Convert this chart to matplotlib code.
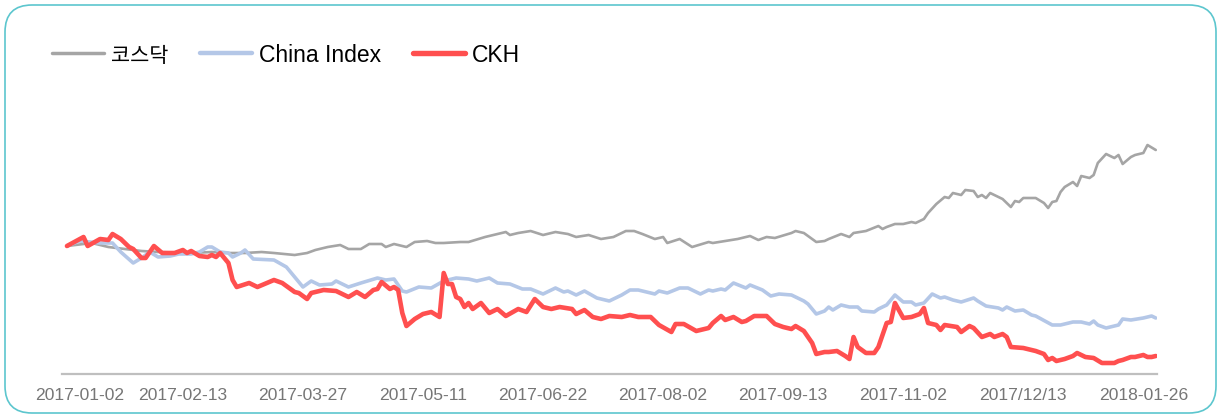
import matplotlib.pyplot as plt
from matplotlib.patches import FancyBboxPatch
from matplotlib.transforms import ScaledTranslation

# (trading day, rebased index), day 0 = 2017-01-02
kosdaq = [(0, 100), (6, 101.5), (10, 99.5), (14, 98.5), (18, 97.5), (22, 97), (30, 96.5), (35, 97),
          (39, 96.5), (43, 96.5), (47, 97), (50, 96.5), (55, 95.5), (58, 96.5), (60, 98), (63, 99.5),
          (66, 100.5), (68, 98.5), (71, 98.5), (73, 101), (76, 101), (77, 99.5), (79, 101), (82, 99.5),
          (84, 102), (87, 102.5), (89, 101.5), (91, 101.5), (95, 102), (97, 102), (101, 104.5), (106, 107),
          (107, 105.5), (109, 106.5), (112, 107.5), (115, 105.5), (118, 107), (121, 106), (123, 104.5),
          (126, 105.5), (129, 103.5), (132, 104.5), (135, 107.5), (137, 107.5), (139, 106), (142, 103.5),
          (144, 104.5), (145, 101.5), (148, 103.5), (151, 99.5), (155, 102), (156, 101.5), (159, 102.5),
          (162, 103.5), (165, 105), (167, 103), (169, 104.5), (171, 104), (175, 106.5), (176, 107.5),
          (178, 106.5), (181, 102), (183, 102.5), (184, 103.5), (187, 106), (189, 104.5), (190, 106.5),
          (193, 107.5), (196, 110), (197, 108.5), (198, 109.5), (200, 111), (202, 111), (204, 112),
          (205, 111.5), (207, 113.5), (208, 116.5), (210, 121), (212, 124.5), (213, 124), (214, 126.5),
          (216, 125.5), (217, 128), (219, 127.5), (220, 124.5), (221, 125.5), (222, 124), (223, 126.5),
          (226, 123.5), (228, 119.5), (229, 122.5), (230, 122), (231, 124), (234, 124), (236, 121.5),
          (237, 119), (238, 122), (239, 122.5), (240, 127), (241, 129.5), (243, 132), (244, 130),
          (245, 135), (247, 134), (248, 135.5), (249, 141.5), (251, 146), (253, 144), (254, 145.5),
          (255, 141), (257, 144.5), (258, 145.5), (260, 146.5), (261, 150.5), (263, 148)]

china = [(0, 100), (3, 102.5), (8, 101.5), (11, 101.5), (13, 97), (16, 91.5), (18, 94), (20, 97),
         (22, 94.5), (25, 95), (27, 96), (30, 96), (32, 97), (34, 99.5), (35, 99.5), (37, 97), (39, 96.5),
         (40, 94.5), (42, 96.5), (43, 98), (45, 93.5), (50, 93), (53, 89.5), (57, 79.5), (59, 82.5),
         (61, 80.5), (64, 81), (65, 82.5), (68, 79.5), (71, 81.5), (75, 84), (77, 83), (79, 83.5),
         (81, 77.5), (82, 77), (85, 79.5), (88, 79), (91, 82.5), (94, 84), (97, 83.5), (99, 82.5),
         (102, 84), (104, 81.5), (107, 81), (110, 78.5), (112, 78.5), (115, 76), (118, 79), (120, 77),
         (121, 77.5), (123, 75.5), (125, 77.5), (128, 74), (131, 72.5), (133, 74.5), (134, 75.5),
         (136, 78), (138, 78), (142, 76), (143, 77.5), (145, 76.5), (148, 79), (150, 79), (153, 76),
         (155, 78), (156, 77.5), (158, 78.5), (159, 78), (161, 81.5), (164, 79), (165, 80.5), (168, 78),
         (170, 75), (172, 76), (175, 75.5), (178, 72.5), (179, 71), (181, 66), (183, 67.5), (184, 69.5),
         (185, 68), (187, 70.5), (189, 69.5), (191, 69.5), (192, 67.5), (195, 67), (196, 68.5),
         (198, 70.5), (200, 75.5), (202, 72), (204, 72), (205, 70.5), (207, 71.5), (209, 76), (211, 74),
         (212, 74.5), (214, 73), (216, 72), (219, 74), (220, 72.5), (222, 70), (225, 69), (226, 68),
         (227, 69.5), (229, 67.5), (231, 68), (233, 65.5), (234, 65), (238, 60.5), (239, 60.5),
         (240, 60.5), (243, 62), (245, 62), (247, 61), (248, 62.5), (249, 60.5), (251, 59), (254, 60.5),
         (255, 63.5), (257, 63), (260, 64), (262, 65), (263, 64)]

ckh = [(0, 100), (4, 104.5), (5, 100), (8, 103.5), (10, 103), (11, 106), (13, 103.5), (15, 99.5),
       (16, 98.5), (18, 94), (19, 94), (21, 100), (23, 96.5), (26, 96.5), (28, 98), (29, 96.5),
       (30, 97.5), (32, 95), (34, 94.5), (35, 95.5), (36, 94.5), (37, 96.5), (39, 91.5), (40, 83),
       (41, 79.5), (44, 81.5), (46, 79.5), (50, 83), (52, 81.5), (55, 77), (56, 76.5), (58, 73.5),
       (59, 76.5), (62, 78), (65, 77.5), (68, 74.5), (70, 77), (72, 74.5), (74, 78), (75, 78.5),
       (76, 82), (78, 78.5), (79, 79.5), (80, 78), (81, 66.5), (82, 60), (84, 63.5), (86, 66), (88, 67),
       (90, 64.5), (91, 86.5), (92, 81), (93, 81), (94, 74.5), (95, 73.5), (96, 69.5), (97, 71.5),
       (98, 68.5), (100, 71.5), (102, 66.5), (104, 68.5), (106, 65), (109, 68.5), (111, 67),
       (113, 73.5), (115, 69.5), (117, 68.5), (119, 69.5), (122, 68.5), (123, 66), (125, 68),
       (127, 64.5), (129, 63.5), (131, 65), (134, 64.5), (136, 65.5), (138, 64.5), (141, 64.5),
       (143, 60.5), (146, 57), (147, 61), (149, 61), (152, 57.5), (155, 59), (156, 61.5), (158, 65),
       (159, 63), (161, 64.5), (163, 62), (164, 62.5), (166, 65), (169, 65), (171, 61), (173, 59.5),
       (175, 58.5), (176, 60), (178, 57.5), (180, 51.5), (181, 46), (183, 47), (184, 47), (186, 47.5),
       (188, 45), (189, 43.5), (190, 54.5), (191, 49.5), (193, 46.5), (195, 46.5), (196, 49.5),
       (198, 61.5), (199, 62), (200, 71.5), (202, 64), (204, 64.5), (206, 66), (207, 69), (208, 61.5),
       (210, 60.5), (211, 58), (212, 60.5), (215, 59.5), (216, 57), (218, 60), (219, 59), (221, 54.5),
       (223, 56), (224, 54.5), (226, 56), (227, 54.5), (228, 49.5), (231, 49), (234, 47.5), (236, 46),
       (237, 43), (238, 44), (239, 42.5), (241, 43.5), (243, 45), (244, 46.5), (246, 44.5), (248, 44),
       (250, 41.5), (253, 41.5), (254, 42.5), (255, 43), (257, 44.5), (258, 44.5), (260, 45.5),
       (261, 44.5), (262, 44.5), (263, 45)]

tick_days = [0, 28, 57, 86, 115, 144, 173, 202, 231, 260]
tick_labels = ['2017-01-02', '2017-02-13', '2017-03-27', '2017-05-11', '2017-06-22',
               '2017-08-02', '2017-09-13', '2017-11-02', '2017/12/13', '2018-01-26']

plt.rcParams['font.family'] = ['Liberation Sans', 'Noto Sans CJK KR']

fig = plt.figure(figsize=(12.2, 4.17), dpi=100)
ax = fig.add_axes([62 / 1220, 43 / 417, 1095 / 1220, 254 / 417])

series = [('코스닥', kosdaq, '#A5A5A5', 1.9),
          ('China Index', china, '#B4C7E7', 2.6),
          ('CKH', ckh, '#FF4F4F', 3.3)]
for name, pts, color, lw in series:
    days = [p[0] for p in pts]
    vals = [p[1] for p in pts]
    ax.plot(days, vals, color=color, lw=lw, label=name,
            solid_joinstyle='round', solid_capstyle='round')

ax.set_xlim(-1.2, 263.3)
ax.set_ylim(36, 163)
for s in ['top', 'left', 'right']:
    ax.spines[s].set_visible(False)
ax.spines['bottom'].set_color('#BFBFBF')
ax.spines['bottom'].set_linewidth(1.6)
ax.set_yticks([])
ax.set_xticks(tick_days, tick_labels)
ax.tick_params(axis='x', length=0, pad=10, labelsize=12.6, labelcolor='#767676')
first = ax.get_xticklabels()[0]
first.set_transform(first.get_transform() + ScaledTranslation(0.13, 0, fig.dpi_scale_trans))

leg = fig.legend(loc='center left', bbox_to_anchor=(52 / 1220, 1 - 55 / 417), ncol=3,
                 frameon=False, fontsize=16.5, handlelength=2.27, handletextpad=0.3,
                 columnspacing=1.4, borderpad=0, borderaxespad=0)
leg.get_texts()[0].set_fontsize(15)
for h in leg.legend_handles:
    h.set_linewidth(h.get_linewidth() + 0.6)

# rounded teal frame around the card
frame = FancyBboxPatch((0.05, 0.04), 12.11, 4.08, boxstyle='round,pad=0,rounding_size=0.27',
                       transform=fig.dpi_scale_trans, fill=False, edgecolor='#5CC6CE', lw=1.2)
fig.add_artist(frame)

plt.savefig('out.png', dpi=100)
